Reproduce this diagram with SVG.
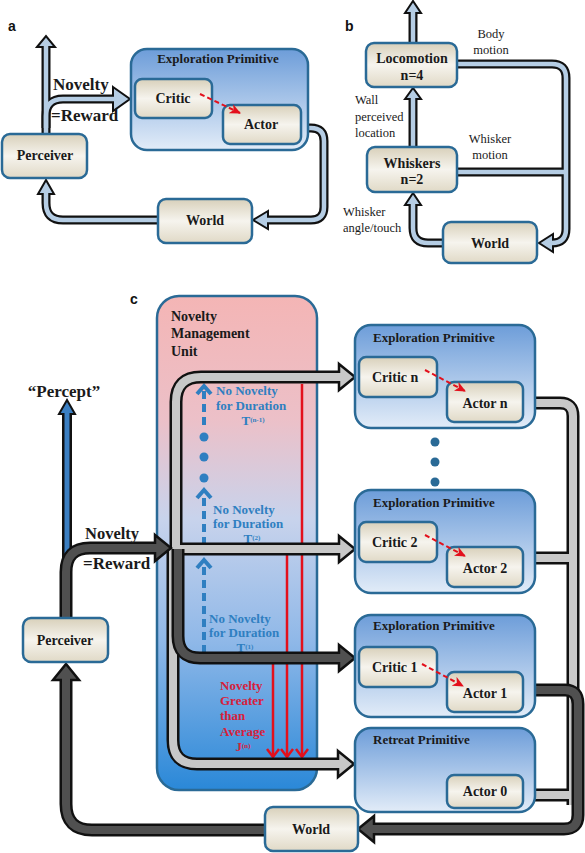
<svg xmlns="http://www.w3.org/2000/svg" width="585" height="853" viewBox="0 0 585 853">
<defs>
<linearGradient id="epg" x1="0" y1="0" x2="0" y2="1"><stop offset="0" stop-color="#6d9dd9"/><stop offset="1" stop-color="#e2ecf8"/></linearGradient>
<linearGradient id="beige" x1="0" y1="0" x2="0" y2="1"><stop offset="0" stop-color="#d8d0ba"/><stop offset="0.5" stop-color="#f6f4ee"/><stop offset="1" stop-color="#e0d9c6"/></linearGradient>
<linearGradient id="nmu" x1="0" y1="0" x2="0" y2="1"><stop offset="0" stop-color="#f4b5b5"/><stop offset="0.25" stop-color="#ecc0c8"/><stop offset="0.45" stop-color="#c8d3ec"/><stop offset="0.7" stop-color="#8fb8e8"/><stop offset="1" stop-color="#2a88d8"/></linearGradient>
<marker id="rarr" markerUnits="userSpaceOnUse" markerWidth="12" markerHeight="10" refX="10" refY="5" orient="auto"><path d="M0,0 L11,5 L0,10 L3,5 z" fill="#e3101c"/></marker>
<style>
.ep{fill:url(#epg);stroke:#2a6a96;stroke-width:2.5}
.bx{fill:url(#beige);stroke:#2a6a96;stroke-width:2.5}
.t{font-family:"Liberation Serif","Times New Roman",serif;font-weight:bold;fill:#1a1a1a}
.n{font-family:"Liberation Serif","Times New Roman",serif;fill:#1a1a1a;font-size:12.5px}
.lab{font-family:"Liberation Sans",Arial,sans-serif;font-weight:bold;font-size:14px;fill:#111}
.po{fill:none;stroke:#111;stroke-width:9}
.pi{fill:none;stroke:#b5cde4;stroke-width:4.5}
.ah{fill:#b5cde4;stroke:#111;stroke-width:2}
.co{fill:none;stroke:#111;stroke-width:13}
.cl{fill:none;stroke:#c8c8c8;stroke-width:8}
.cd{fill:none;stroke:#505050;stroke-width:8}
.al{fill:#c8c8c8;stroke:#111;stroke-width:2.5}
.ad{fill:#505050;stroke:#111;stroke-width:2.5}
.red{stroke:#e3101c;stroke-width:2.5;fill:none}
.bd{stroke:#2f7fc1;stroke-width:4;fill:none;stroke-dasharray:8,5}
.bc{stroke:#2f7fc1;stroke-width:4;fill:none}
.bt{font-family:"Liberation Serif","Times New Roman",serif;font-weight:bold;font-size:13px;fill:#2f7fc1}
.rt{font-family:"Liberation Serif","Times New Roman",serif;font-weight:bold;font-size:13px;fill:#d8203a}
.rd{stroke:#e3101c;stroke-width:2;stroke-dasharray:5,3;fill:none}
</style>
</defs>
<rect width="585" height="853" fill="#fff"/>

<!-- panel labels -->
<text class="lab" x="8" y="31">a</text>
<text class="lab" x="345" y="31">b</text>
<text class="lab" x="130" y="304">c</text>

<!-- ========== PANEL A connectors ========== -->
<g id="a-connectors">
<path class="po" d="M46,136 V47"/>
<path class="po" d="M46,128 V116 Q46,99 63,99 H114"/>
<path class="po" d="M298,128 H311 Q324,128 324,141 V207 Q324,220 311,220 H267"/>
<path class="po" d="M160,220 H63 Q46,220 46,203 V194"/>
<polygon class="ah" points="37,47 46,36 55,47"/>
<polygon class="ah" points="113,87 130,99 113,111"/>
<polygon class="ah" points="268,211 253,220 268,229"/>
<polygon class="ah" points="38,194 46,180 54,194"/>
<path class="pi" d="M46,136 V44"/>
<path class="pi" d="M46,128 V116 Q46,99 63,99 H117"/>
<path class="pi" d="M298,128 H311 Q324,128 324,141 V207 Q324,220 311,220 H264"/>
<path class="pi" d="M160,220 H63 Q46,220 46,203 V191"/>
</g>
<text class="t" x="53" y="90" font-size="17">Novelty</text>
<text class="t" x="51" y="121" font-size="17">=Reward</text>

<g id="a-exploration-primitive">
<rect class="ep" x="131" y="49" width="177" height="101" rx="16"/>
<text class="t" x="218" y="63" font-size="13" text-anchor="middle">Exploration Primitive</text>
</g>
<g id="a-critic">
<rect class="bx" x="135" y="79" width="77" height="39" rx="7"/>
<text class="t" x="173" y="103" font-size="14" text-anchor="middle">Critic</text>
</g>
<g id="a-actor">
<rect class="bx" x="223" y="105" width="78" height="39" rx="7"/>
<text class="t" x="261" y="129" font-size="14" text-anchor="middle">Actor</text>
</g>
<path class="rd" d="M200,94 L240,113" marker-end="url(#rarr)"/>
<g id="a-perceiver">
<rect class="bx" x="2" y="134" width="85" height="44" rx="8"/>
<text class="t" x="45" y="160" font-size="14" text-anchor="middle">Perceiver</text>
</g>
<g id="a-world">
<rect class="bx" x="158" y="199" width="94" height="44" rx="8"/>
<text class="t" x="205" y="225" font-size="14" text-anchor="middle">World</text>
</g>

<!-- ========== PANEL B ========== -->
<g id="b-connectors">
<path class="po" d="M413,45 V13"/>
<path class="po" d="M413,149 V99"/>
<path class="po" d="M445,243 H428 Q413,243 413,228 V205"/>
<path class="po" d="M455,64 H552 Q566,64 566,78 V229 Q566,243 552,243"/>
<path class="po" d="M455,172 H566"/>
<polygon class="ah" points="405,13 413,1 421,13"/>
<polygon class="ah" points="405,99 413,88 421,99"/>
<polygon class="ah" points="405,205 413,193 421,205"/>
<polygon class="ah" points="553,234 539,243 553,252"/>
<path class="pi" d="M413,45 V11"/>
<path class="pi" d="M413,149 V97"/>
<path class="pi" d="M445,243 H428 Q413,243 413,228 V203"/>
<path class="pi" d="M455,64 H552 Q566,64 566,78 V229 Q566,243 552,243 H550"/>
<path class="pi" d="M455,172 H566"/>
</g>
<text class="n" x="491" y="38" text-anchor="middle">Body</text>
<text class="n" x="491" y="54" text-anchor="middle">motion</text>
<text class="n" x="355" y="104">Wall</text>
<text class="n" x="355" y="121">perceived</text>
<text class="n" x="355" y="137">location</text>
<text class="n" x="490" y="143" text-anchor="middle">Whisker</text>
<text class="n" x="490" y="159" text-anchor="middle">motion</text>
<text class="n" x="343" y="216">Whisker</text>
<text class="n" x="343" y="232">angle/touch</text>
<g id="b-locomotion">
<rect class="bx" x="366" y="43" width="91" height="44" rx="8"/>
<text class="t" x="412" y="63" font-size="14" text-anchor="middle">Locomotion</text>
<text class="t" x="412" y="80" font-size="14" text-anchor="middle">n=4</text>
</g>
<g id="b-whiskers">
<rect class="bx" x="367" y="147" width="90" height="45" rx="8"/>
<text class="t" x="412" y="168" font-size="14" text-anchor="middle">Whiskers</text>
<text class="t" x="412" y="184" font-size="14" text-anchor="middle">n=2</text>
</g>
<g id="b-world">
<rect class="bx" x="443" y="222" width="94" height="41" rx="8"/>
<text class="t" x="490" y="248" font-size="14" text-anchor="middle">World</text>
</g>

<!-- ========== PANEL C ========== -->
<g id="c-nmu">
<rect x="157" y="296" width="160" height="494" rx="22" fill="url(#nmu)" stroke="#2a6a96" stroke-width="2.5"/>
<text class="t" x="171" y="321" font-size="14">Novelty</text>
<text class="t" x="171" y="338" font-size="14">Management</text>
<text class="t" x="171" y="356" font-size="14">Unit</text>
</g>

<g id="c-signals">
<line class="red" x1="302" y1="384" x2="302" y2="757"/>
<line class="red" x1="287" y1="555" x2="287" y2="757"/>
<line class="red" x1="273" y1="664" x2="273" y2="757"/>
<polyline class="red" points="267,749 273,757 279,749"/>
<polyline class="red" points="281,749 287,757 293,749"/>
<polyline class="red" points="296,749 302,757 308,749"/>
<line class="bd" x1="204" y1="425" x2="204" y2="389"/>
<polyline class="bc" points="197,394 204,386 211,394"/>
<line class="bd" x1="204" y1="545" x2="204" y2="493"/>
<polyline class="bc" points="197,498 204,490 211,498"/>
<line class="bd" x1="204" y1="653" x2="204" y2="563"/>
<polyline class="bc" points="197,568 204,560 211,568"/>
<circle cx="204" cy="437" r="4.5" fill="#2f7fc1"/>
<circle cx="204" cy="457" r="4.5" fill="#2f7fc1"/>
<circle cx="204" cy="478" r="4.5" fill="#2f7fc1"/>
</g>
<text class="bt" x="216" y="395">No Novelty</text>
<text class="bt" x="216" y="410">for Duration</text>
<text class="bt" x="253" y="425" text-anchor="middle" font-size="11">T<tspan font-size="7" dy="-3">(n-1)</tspan></text>
<text class="bt" x="213" y="514">No Novelty</text>
<text class="bt" x="213" y="528">for Duration</text>
<text class="bt" x="252" y="543" text-anchor="middle" font-size="11">T<tspan font-size="7" dy="-3">(2)</tspan></text>
<text class="bt" x="209" y="623">No Novelty</text>
<text class="bt" x="209" y="637">for Duration</text>
<text class="bt" x="245" y="652" text-anchor="middle" font-size="11">T<tspan font-size="7" dy="-3">(1)</tspan></text>
<text class="rt" x="220" y="690">Novelty</text>
<text class="rt" x="220" y="705">Greater</text>
<text class="rt" x="220" y="720">than</text>
<text class="rt" x="220" y="736">Average</text>
<text class="rt" x="243" y="751" text-anchor="middle" font-size="11">J<tspan font-size="7" dy="-3">(n)</tspan></text>

<g id="c-connectors">
<!-- percept arrow -->
<path d="M67,562 V414" fill="none" stroke="#111" stroke-width="10"/>
<polygon points="59,414 67,400 75,414" fill="#3b7fc2" stroke="#111" stroke-width="2"/>
<path d="M67,562 V411" fill="none" stroke="#3b7fc2" stroke-width="5"/>
<!-- light network in NMU -->
<path class="co" d="M176,560 V402 Q176,377 201,377 H340"/>
<path class="co" d="M176,549 H340"/>
<path class="co" d="M173,549 V740 Q173,764 197,764 H338"/>
<polygon class="al" points="339,364 355,377 339,390"/>
<polygon class="al" points="339,536 355,549 339,562"/>
<polygon class="al" points="338,751 354,764 338,777"/>
<path class="cl" d="M176,560 V402 Q176,377 201,377 H342"/>
<path class="cl" d="M176,549 H342"/>
<path class="cl" d="M173,549 V740 Q173,764 197,764 H341"/>
<!-- dark to critic 1 -->
<path class="co" d="M178,549 V636 Q178,658 200,658 H340"/>
<polygon class="ad" points="339,645 355,658 339,671"/>
<path class="cd" d="M178,549 V636 Q178,658 200,658 H342"/>
<!-- novelty from perceiver -->
<path class="co" d="M66,625 V572 Q66,548 90,548 H156"/>
<polygon class="ad" points="155,535 171,548 155,561"/>
<path class="cd" d="M66,625 V572 Q66,548 90,548 H158"/>
<!-- world to perceiver -->
<path class="co" d="M270,830 H92 Q66,830 66,804 V680"/>
<polygon class="ad" points="53,680 66,664 79,680"/>
<path class="cd" d="M270,830 H92 Q66,830 66,804 V677"/>
<!-- right light pipes -->
<path class="co" d="M520,403 H560 Q573,403 573,416 V805"/>
<path class="co" d="M520,558 H573"/>
<path class="co" d="M520,795 H573"/>
<path class="cl" d="M520,403 H560 Q573,403 573,416 V805"/>
<path class="cl" d="M520,558 H573"/>
<path class="cl" d="M520,795 H573"/>
<!-- dark from actor 1 to world -->
<path class="co" d="M520,690 H565 Q578,690 578,704 V815 Q578,829 564,829 H374"/>
<polygon class="ad" points="374,816 358,829 374,842"/>
<path class="cd" d="M520,690 H565 Q578,690 578,704 V815 Q578,829 564,829 H372"/>
</g>
<text class="t" x="64" y="397" font-size="17" text-anchor="middle">“Percept”</text>
<text class="t" x="85" y="539" font-size="16.5">Novelty</text>
<text class="t" x="83" y="569" font-size="17">=Reward</text>

<g id="c-perceiver">
<rect class="bx" x="23" y="618" width="85" height="44" rx="8"/>
<text class="t" x="65" y="645" font-size="14" text-anchor="middle">Perceiver</text>
</g>
<g id="c-world">
<rect class="bx" x="265" y="807" width="93" height="44" rx="8"/>
<text class="t" x="311" y="834" font-size="14" text-anchor="middle">World</text>
</g>

<g id="c-ep-n">
<rect class="ep" x="355" y="325" width="180" height="103" rx="16"/>
<text class="t" x="373" y="342" font-size="13">Exploration Primitive</text>
<rect class="bx" x="359" y="357" width="78" height="40" rx="7"/>
<text class="t" x="372" y="382" font-size="14">Critic n</text>
<rect class="bx" x="447" y="382" width="76" height="40" rx="7"/>
<text class="t" x="485" y="408" font-size="14" text-anchor="middle">Actor n</text>
<path class="rd" d="M425,370 L465,391" marker-end="url(#rarr)"/>
</g>
<g id="c-dots">
<circle cx="435" cy="442" r="4.5" fill="#2a6a96"/>
<circle cx="435" cy="462" r="4.5" fill="#2a6a96"/>
<circle cx="435" cy="482" r="4.5" fill="#2a6a96"/>
</g>
<g id="c-ep-2">
<rect class="ep" x="355" y="490" width="180" height="103" rx="16"/>
<text class="t" x="373" y="507" font-size="13">Exploration Primitive</text>
<rect class="bx" x="359" y="522" width="78" height="40" rx="7"/>
<text class="t" x="372" y="547" font-size="14">Critic 2</text>
<rect class="bx" x="447" y="547" width="76" height="40" rx="7"/>
<text class="t" x="485" y="573" font-size="14" text-anchor="middle">Actor 2</text>
<path class="rd" d="M425,535 L465,556" marker-end="url(#rarr)"/>
</g>
<g id="c-ep-1">
<rect class="ep" x="355" y="615" width="180" height="102" rx="16"/>
<text class="t" x="373" y="630" font-size="13">Exploration Primitive</text>
<rect class="bx" x="359" y="647" width="78" height="40" rx="7"/>
<text class="t" x="372" y="672" font-size="14">Critic 1</text>
<rect class="bx" x="447" y="672" width="76" height="40" rx="7"/>
<text class="t" x="485" y="698" font-size="14" text-anchor="middle">Actor 1</text>
<path class="rd" d="M422,664 L463,686" marker-end="url(#rarr)"/>
</g>
<g id="c-retreat">
<rect class="ep" x="355" y="728" width="180" height="84" rx="16"/>
<text class="t" x="373" y="744" font-size="13">Retreat Primitive</text>
<rect class="bx" x="447" y="775" width="76" height="33" rx="7"/>
<text class="t" x="485" y="796" font-size="14" text-anchor="middle">Actor 0</text>
</g>
</svg>
